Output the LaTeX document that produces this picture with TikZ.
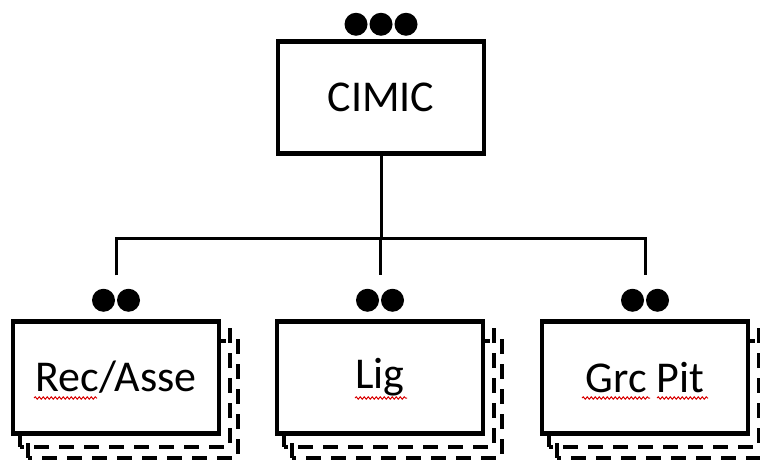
\documentclass[tikz,border=0pt]{standalone}
\usepackage{fontspec}
\setmainfont{Carlito}
\usetikzlibrary{backgrounds,decorations.pathmorphing}

\begin{document}
\begin{tikzpicture}[x=1pt,y=-1pt,
  unitbox/.style={draw, line width=4.5pt, fill=white, minimum width=206pt,
    minimum height=112pt, inner sep=0pt, font=\fontsize{44}{52}\selectfont},
  link/.style={line width=3pt},
  pip/.style={fill=black},
  shadowbox/.style={draw, line width=4pt, dash pattern=on 15pt off 10pt},
  spell/.style={draw=red!85!black, line width=1pt, decorate,
    decoration={snake, amplitude=1.2pt, segment length=4pt}}]
\useasboundingbox (0,0) rectangle (760,459);
\clip (0,0) rectangle (760,459);

% units
\node[unitbox] (cimic) at (381,97.5) {CIMIC};
\node[unitbox] (rec) at (116,377.5) {Rec/Asse};
\node[unitbox] (lig) at (380,377.5) {Lig};
\node[unitbox] (grc) at (645,377.5) {Grc Pit};

% stacked dashed outlines behind the lower units
\begin{scope}[on background layer]
  \foreach \b in {rec,lig,grc} {
    \draw[shadowbox] ([shift={(9,11)}]\b.south west) rectangle ([shift={(9,11)}]\b.north east);
    \draw[shadowbox] ([shift={(17,22)}]\b.south west) rectangle ([shift={(17,22)}]\b.north east);
  }
\end{scope}

% connectors
\coordinate (bus) at (0,238);
\coordinate (recdrop) at ([yshift=44pt]rec.north);
\coordinate (ligdrop) at ([yshift=44pt]lig.north);
\coordinate (grcdrop) at ([yshift=44pt]grc.north);
\draw[link] (cimic.south) -- (cimic.south |- bus);
\draw[link] (recdrop) -- (recdrop |- bus) -- (grcdrop |- bus) -- (grcdrop);
\draw[link] (ligdrop |- bus) -- (ligdrop);

% size markers
\foreach \dx in {-25,0,25} \fill[pip] ([shift={(\dx,-15)}]cimic.north) circle (11.5);
\foreach \b in {rec,lig,grc}
  \foreach \dx in {-12.5,12.5} \fill[pip] ([shift={(\dx,-19)}]\b.north) circle (11.5);

% spell-check underlines
\draw[spell] (34,398) -- (97,398);
\draw[spell] (355,398) -- (407,398);
\draw[spell] (582,398) -- (650,398);
\draw[spell] (657,398) -- (708,398);
\end{tikzpicture}
\end{document}
